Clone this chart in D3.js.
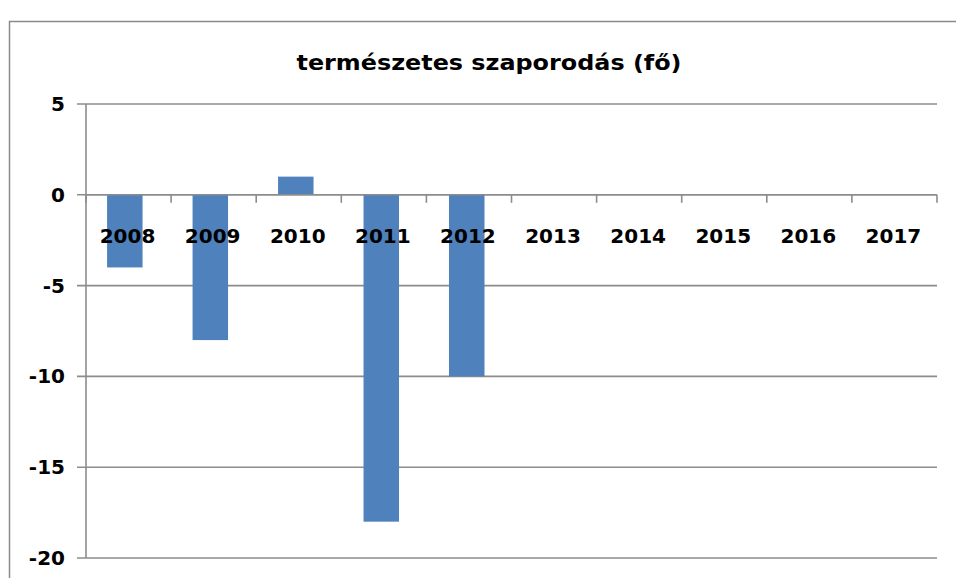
<!DOCTYPE html>
<html><head><meta charset="utf-8">
<script src="https://cdn.jsdelivr.net/npm/d3@7"></script>
<style>body{margin:0;background:#fff;}svg{display:block;}</style>
</head><body>
<svg id="c" width="956" height="578"></svg>
<script>
const categories = ["2008","2009","2010","2011","2012","2013","2014","2015","2016","2017"];
const values = [-4, -8, 1, -18, -10, null, null, null, null, null];
const yTicks = [5, 0, -5, -10, -15, -20];
const title = "természetes szaporodás (fő)";

const svg = d3.select("#c");
const W = 956, H = 578;
const plot = {left: 86, right: 937, top: 104, bottom: 558};

svg.append("rect").attr("x", 0).attr("y", 0).attr("width", W).attr("height", H).attr("fill", "#fff");
svg.append("rect").attr("x", 9.5).attr("y", 21.5).attr("width", 1000).attr("height", 700)
  .attr("fill", "none").attr("stroke", "#8a8a8a").attr("stroke-width", 1.5);

const x = d3.scaleBand().domain(categories).range([plot.left, plot.right]).paddingInner(0.585).paddingOuter(0.27);
const xb = d3.scaleBand().domain(categories).range([plot.left, plot.right]);
const y = d3.scaleLinear().domain([-20, 5]).range([plot.bottom, plot.top]);

const grid = "#8c8c8c";
svg.append("g").selectAll("line").data(yTicks).join("line")
  .attr("x1", plot.left - 9).attr("x2", plot.right)
  .attr("y1", d => y(d)).attr("y2", d => y(d))
  .attr("stroke", grid).attr("stroke-width", 1.6);

svg.append("line").attr("x1", plot.left).attr("x2", plot.left)
  .attr("y1", plot.top).attr("y2", plot.bottom).attr("stroke", grid).attr("stroke-width", 1.6);

svg.append("g").selectAll("rect").data(categories.map((c, i) => ({c, v: values[i]})).filter(d => d.v !== null))
  .join("rect")
  .attr("x", d => x(d.c) - 2)
  .attr("width", x.bandwidth())
  .attr("y", d => y(Math.max(0, d.v)))
  .attr("height", d => Math.abs(y(d.v) - y(0)))
  .attr("fill", "#4f81bd");

const bounds = categories.map(c => xb(c) + xb.bandwidth()).concat([plot.left]);
svg.append("g").selectAll("line").data(bounds).join("line")
  .attr("x1", d => d).attr("x2", d => d)
  .attr("y1", y(0)).attr("y2", y(0) + 8)
  .attr("stroke", grid).attr("stroke-width", 1.6);
svg.append("line").attr("x1", plot.left).attr("x2", plot.right)
  .attr("y1", y(0)).attr("y2", y(0)).attr("stroke", grid).attr("stroke-width", 1.6);

const font = "'DejaVu Sans', Verdana, sans-serif";
svg.append("g").selectAll("text").data(categories).join("text")
  .attr("x", d => xb(d) + xb.bandwidth() / 2 - 1)
  .attr("y", 243)
  .attr("text-anchor", "middle")
  .attr("font-family", font).attr("font-weight", "bold").attr("font-size", 20)
  .attr("fill", "#000")
  .text(d => d);

svg.append("g").selectAll("text").data(yTicks).join("text")
  .attr("x", 65)
  .attr("y", d => y(d) + 7)
  .attr("text-anchor", "end")
  .attr("font-family", font).attr("font-weight", "bold").attr("font-size", 20)
  .attr("fill", "#000")
  .text(d => d);

svg.append("text").attr("x", 489).attr("y", 70)
  .attr("text-anchor", "middle")
  .attr("font-family", font).attr("font-weight", "bold").attr("font-size", 22)
  .attr("textLength", 385).attr("lengthAdjust", "spacingAndGlyphs")
  .attr("fill", "#000")
  .text(title);
</script>
</body></html>
